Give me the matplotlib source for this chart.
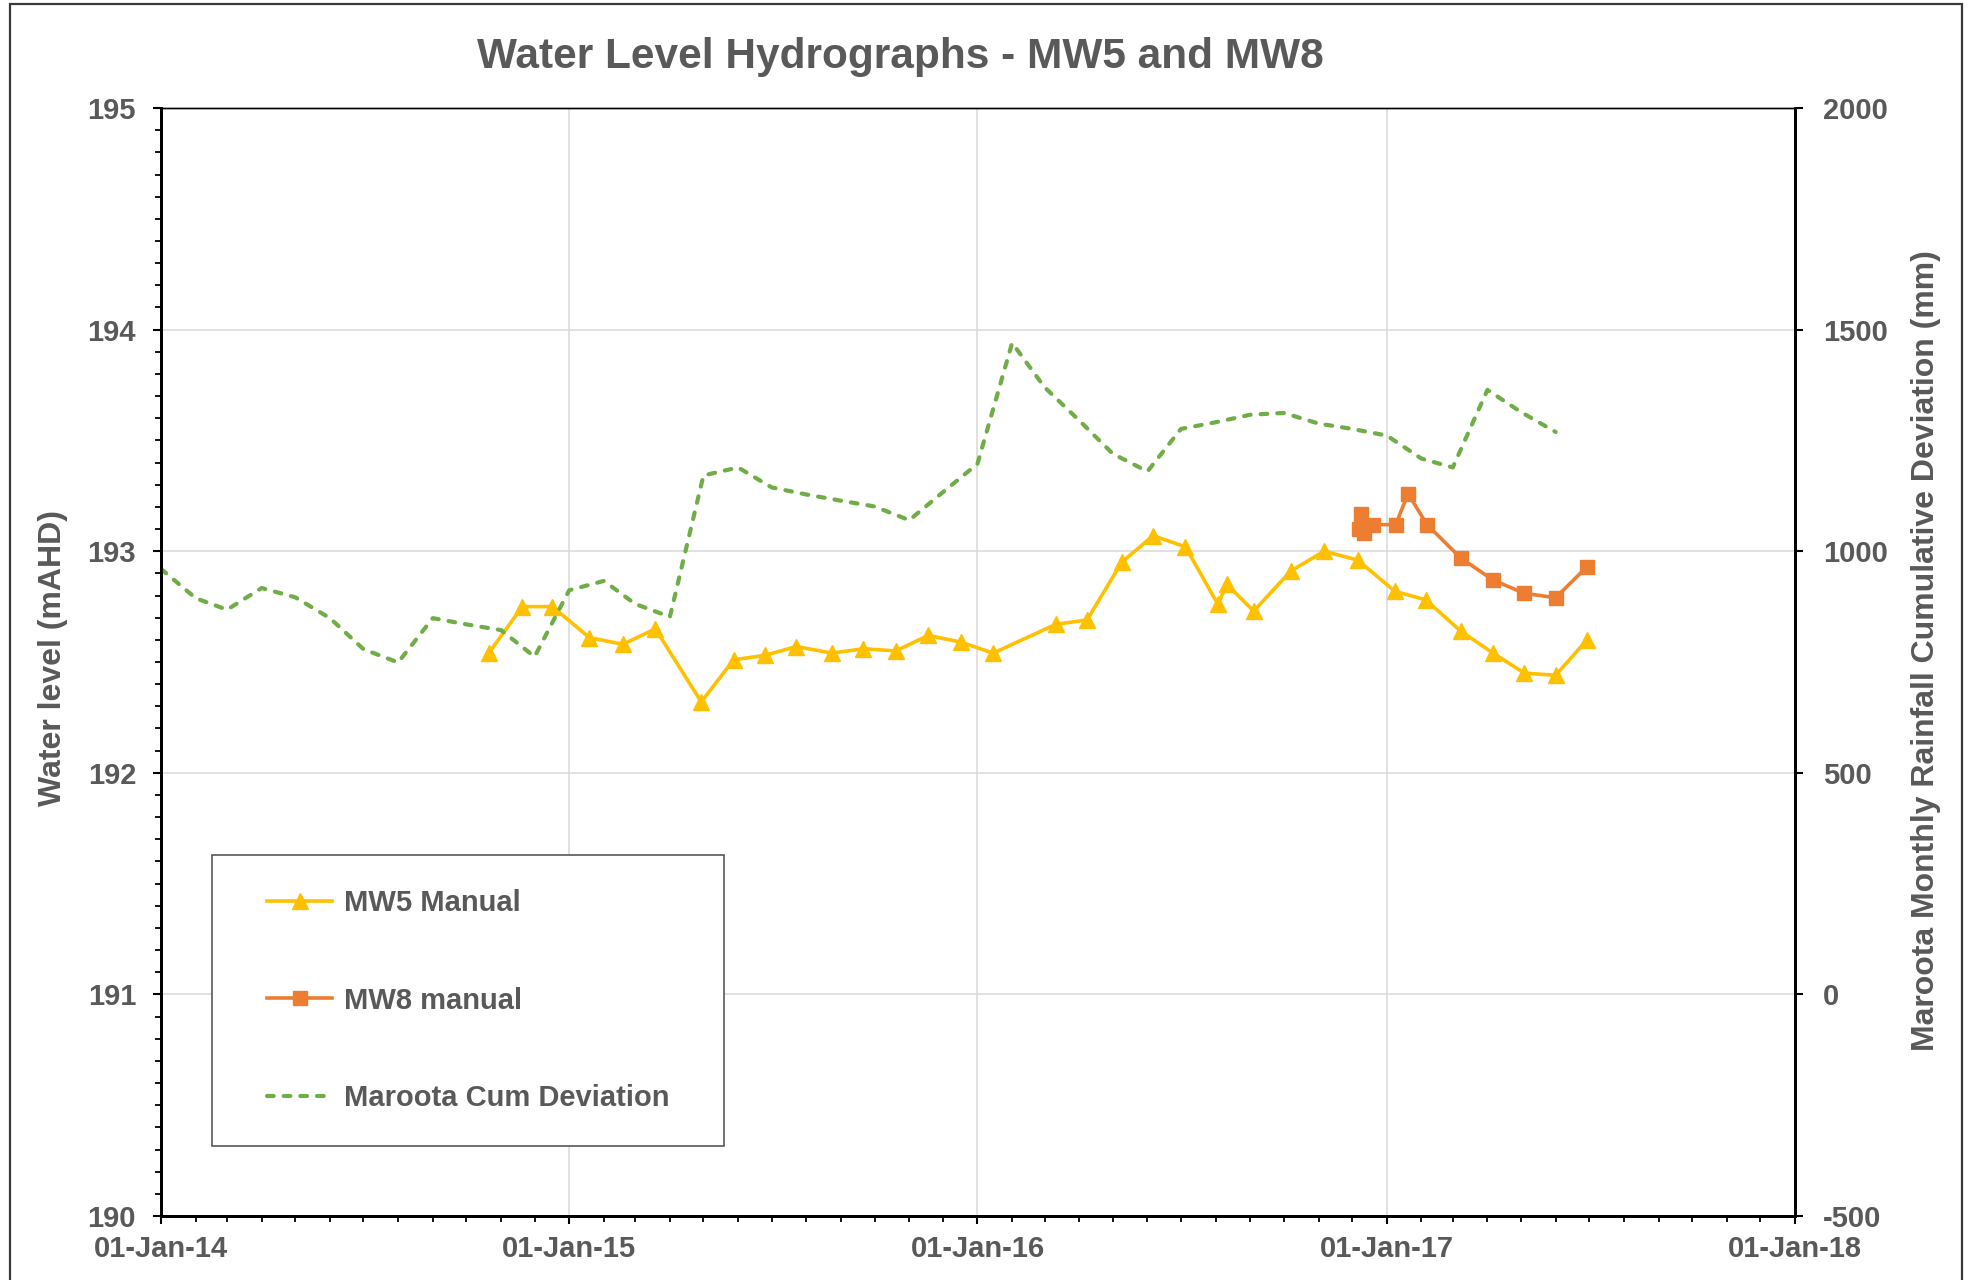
import matplotlib
matplotlib.use("Agg")
import matplotlib.pyplot as plt
import matplotlib.dates as mdates
from matplotlib.patches import Rectangle
from matplotlib.ticker import MultipleLocator, StrMethodFormatter
import numpy as np

plt.rcParams['font.family'] = ['Liberation Sans', 'DejaVu Sans']
plt.rcParams['font.weight'] = 'bold'
plt.rcParams['axes.unicode_minus'] = False

GREY = '#595959'

# MW5 manual readings (mAHD)
mw5_dates = ['2014-10-21', '2014-11-20', '2014-12-17', '2015-01-19', '2015-02-18',
             '2015-03-19', '2015-04-29', '2015-05-28', '2015-06-25', '2015-07-23',
             '2015-08-24', '2015-09-21', '2015-10-20', '2015-11-18', '2015-12-17',
             '2016-01-15', '2016-03-11', '2016-04-08', '2016-05-09', '2016-06-06',
             '2016-07-05', '2016-08-03', '2016-08-11', '2016-09-04', '2016-10-07',
             '2016-11-06', '2016-12-06', '2017-01-08', '2017-02-05', '2017-03-08',
             '2017-04-06', '2017-05-04', '2017-06-01', '2017-06-29']
mw5_level = [192.54, 192.75, 192.75, 192.61, 192.58,
             192.65, 192.32, 192.51, 192.53, 192.57,
             192.54, 192.56, 192.55, 192.62, 192.59,
             192.54, 192.67, 192.69, 192.95, 193.07,
             193.02, 192.76, 192.85, 192.73, 192.91,
             193.00, 192.96, 192.82, 192.78, 192.64,
             192.54, 192.45, 192.44, 192.60]

# MW8 manual readings (mAHD)
mw8_dates = ['2016-12-07', '2016-12-09', '2016-12-12', '2016-12-20', '2017-01-09',
             '2017-01-20', '2017-02-06', '2017-03-08', '2017-04-06', '2017-05-04',
             '2017-06-01', '2017-06-29']
mw8_level = [193.10, 193.17, 193.08, 193.12, 193.12,
             193.26, 193.12, 192.97, 192.87, 192.81,
             192.79, 192.93]

# Maroota monthly rainfall cumulative deviation (mm), Jan-2014 .. Jun-2017
cum_months = np.arange('2014-01', '2017-07', dtype='datetime64[M]').astype('datetime64[D]')
cum_dev = [960, 894, 868, 917, 896, 849, 779, 749, 849, 835, 822, 762,
           912, 933, 881, 852, 1171, 1189, 1144, 1128, 1114, 1101, 1070, 1133,
           1197, 1470, 1370, 1295, 1220, 1180, 1276, 1291, 1308, 1312, 1288, 1276,
           1261, 1209, 1189, 1364, 1314, 1269]

fig = plt.figure(figsize=(19.71, 12.8), dpi=100)
ax = fig.add_axes([0.0817, 0.05, 0.829, 0.8656])
ax2 = ax.twinx()

l5, = ax.plot(np.array(mw5_dates, dtype='datetime64[D]'), mw5_level, color='#FFC000',
              lw=2.6, marker='^', ms=11.5, mec='#FFC000', mfc='#FFC000', label='MW5 Manual')
l8, = ax.plot(np.array(mw8_dates, dtype='datetime64[D]'), mw8_level, color='#ED7D31',
              lw=2.6, marker='s', ms=10, mec='#ED7D31', mfc='#ED7D31', label='MW8 manual')
lg, = ax2.plot(cum_months, cum_dev, color='#70AD47', lw=3.0, ls=(0, (1.6, 2.4)),
               dash_capstyle='round', label='Maroota Cum Deviation')

ax.set_xlim(np.datetime64('2014-01-01'), np.datetime64('2018-01-01'))
ax.set_ylim(190, 195)
ax2.set_ylim(-500, 2000)

ax.xaxis.set_major_locator(mdates.YearLocator())
ax.xaxis.set_minor_locator(mdates.MonthLocator())
ax.xaxis.set_major_formatter(mdates.DateFormatter('%d-%b-%y'))
ax.yaxis.set_major_locator(MultipleLocator(1))
ax.yaxis.set_minor_locator(MultipleLocator(0.1))
ax.yaxis.set_major_formatter(StrMethodFormatter('{x:.0f}'))
ax2.yaxis.set_major_locator(MultipleLocator(500))
ax2.yaxis.set_major_formatter(StrMethodFormatter('{x:.0f}'))

ax.grid(True, which='major', color='#D9D9D9', lw=1.1)
ax.set_axisbelow(True)

for a in (ax, ax2):
    for s in ('left', 'bottom', 'right'):
        a.spines[s].set_linewidth(2.0)
        a.spines[s].set_color('black')
    a.spines['top'].set_linewidth(1.0)
    a.spines['top'].set_color('black')

ax.tick_params(axis='x', which='major', length=6, width=1.5, pad=8,
               labelsize=21, labelcolor=GREY)
ax.tick_params(axis='x', which='minor', length=4, width=1.3)
ax.tick_params(axis='y', which='major', length=6, width=1.5, pad=12,
               labelsize=21, labelcolor=GREY)
ax.tick_params(axis='y', which='minor', length=4, width=1.3)
ax2.tick_params(axis='y', which='major', length=6, width=1.5, pad=14,
                labelsize=21, labelcolor=GREY)
for lab in ax.get_xticklabels() + ax.get_yticklabels() + ax2.get_yticklabels():
    lab.set_fontweight('bold')

ax.set_ylabel('Water level (mAHD)', fontsize=23, color=GREY, fontweight='bold')
ax.yaxis.set_label_coords(-0.0661, 0.5035)
ax.yaxis.label.set_va('center')
ax2.set_ylabel('Maroota Monthly Rainfall Cumulative Deviation (mm)', fontsize=23,
               color=GREY, fontweight='bold')
ax2.yaxis.set_label_coords(1.0802, 0.51)
ax2.yaxis.label.set_va('center')

fig.text(0.4567, 0.9558, 'Water Level Hydrographs - MW5 and MW8', ha='center',
         va='center', fontsize=30.5, color=GREY, fontweight='bold')

# legend box
box = Rectangle((0.1078, 0.1044), 0.2596, 0.2278, transform=fig.transFigure,
                facecolor='white', edgecolor=GREY, lw=1.2, zorder=4)
fig.add_artist(box)
leg = fig.legend(handles=[l5, l8, lg], loc='center', bbox_to_anchor=(0.2375, 0.2183),
                 bbox_transform=fig.transFigure, frameon=False, fontsize=21,
                 labelspacing=2.39, handlelength=2.23, handletextpad=0.39,
                 borderpad=0, labelcolor=GREY, numpoints=1)
for t in leg.get_texts():
    t.set_fontweight('bold')
leg.set_zorder(5)

# outer chart border
fig.add_artist(Rectangle((0.0051, -0.02), 0.9904, 1.0169, transform=fig.transFigure,
                         facecolor='none', edgecolor='#3a3a3a', lw=1.6, zorder=6))

fig.savefig('out.png', dpi=100)
